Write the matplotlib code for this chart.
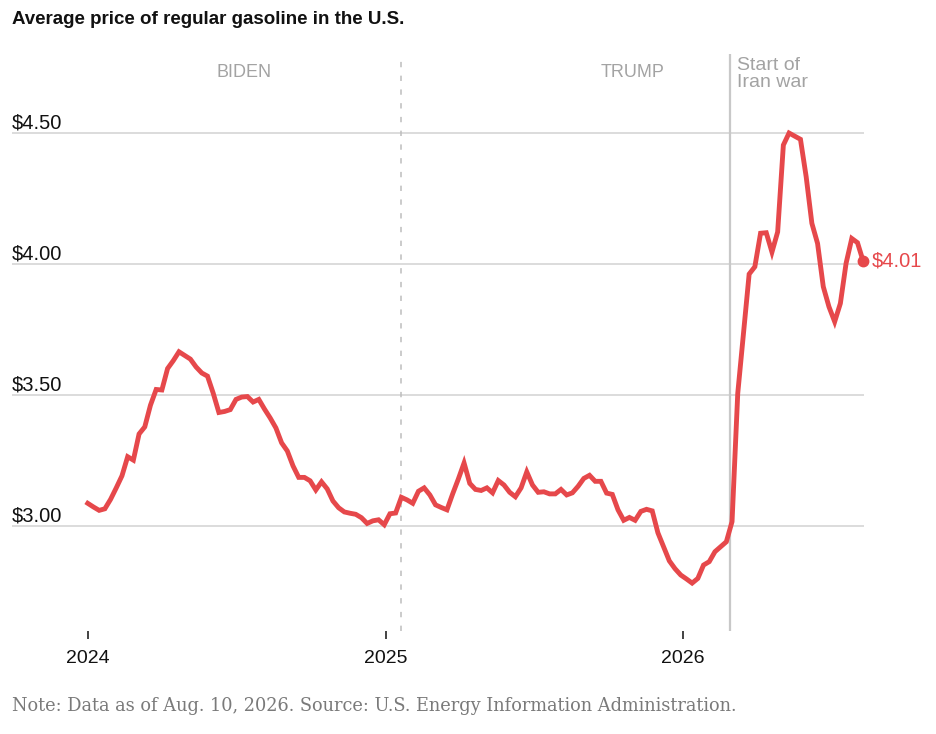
import numpy as np
import pandas as pd
import matplotlib
matplotlib.use('Agg')
import matplotlib.pyplot as plt
import matplotlib.dates as mdates
import matplotlib.transforms as mtransforms

# weekly average price of regular gasoline (Mondays, Jan 1 2024 -> Aug 10 2026)
weeks = pd.date_range('2024-01-01', '2026-08-10', freq='7D')
prices = [
    # 2024
    3.085, 3.071, 3.058, 3.064, 3.100, 3.144, 3.190, 3.263, 3.250, 3.350,
    3.377, 3.460, 3.520, 3.518, 3.600, 3.630, 3.664, 3.650, 3.636, 3.606,
    3.583, 3.571, 3.506, 3.432, 3.436, 3.443, 3.482, 3.491, 3.493, 3.472,
    3.482, 3.445, 3.411, 3.373, 3.316, 3.285, 3.228, 3.184, 3.184, 3.171,
    3.136, 3.167, 3.140, 3.094, 3.068, 3.052, 3.047, 3.043, 3.030, 3.008,
    3.018, 3.022,
    # 2025
    3.003, 3.045, 3.048, 3.108, 3.098, 3.085, 3.131, 3.144, 3.117, 3.079,
    3.069, 3.060, 3.121, 3.178, 3.239, 3.161, 3.138, 3.134, 3.144, 3.125,
    3.172, 3.155, 3.127, 3.110, 3.144, 3.205, 3.155, 3.127, 3.129, 3.121,
    3.121, 3.138, 3.117, 3.125, 3.150, 3.180, 3.192, 3.169, 3.169, 3.124,
    3.119, 3.060, 3.020, 3.031, 3.020, 3.054, 3.062, 3.056, 2.972, 2.919,
    2.865, 2.835,
    # 2026
    2.811, 2.796, 2.780, 2.798, 2.849, 2.862, 2.900, 2.919, 2.938, 3.015,
    3.505, 3.735, 3.961, 3.989, 4.117, 4.119, 4.045, 4.122, 4.454, 4.500,
    4.488, 4.476, 4.333, 4.155, 4.078, 3.913, 3.836, 3.779, 3.849, 4.002,
    4.097, 4.081, 4.010,
]
last_label = '$4.01'

price_ticks = [3.00, 3.50, 4.00, 4.50]
year_ticks = ['2024', '2025', '2026']

inauguration = pd.Timestamp('2025-01-20')
war_start = pd.Timestamp('2026-02-28')
start = pd.Timestamp('2024-01-01')
end = weeks[-1]

RED = '#e6484b'
GRID = '#d2d2d2'
GRAY = '#a3a3a3'

plt.rcParams['font.family'] = ['Liberation Sans', 'DejaVu Sans']

fig = plt.figure(figsize=(9.36, 7.34), dpi=100)
ax = fig.add_axes([12 / 936, 103 / 734, 852 / 936, 577 / 734])

ax.set_xlim(start - pd.Timedelta(days=93), end + pd.Timedelta(days=1))
ax.set_ylim(2.597, 4.802)

for s in ax.spines.values():
    s.set_visible(False)

# horizontal grid and price labels sitting on top of the lines
for p in price_ticks:
    ax.axhline(p, color=GRID, lw=1.1, zorder=1)
    ax.annotate(f'${p:.2f}', xy=(0, p), xycoords=('axes fraction', 'data'),
                xytext=(0, 3), textcoords='offset points',
                ha='left', va='baseline', fontsize=14.5, color='#111111')
ax.set_yticks([])

# year ticks
ax.set_xticks([pd.Timestamp(y + '-01-01') for y in year_ticks])
ax.set_xticklabels(year_ticks)
ax.tick_params(axis='x', length=6, width=1.2, color='#222222', pad=8,
               labelsize=14, labelcolor='#111111')

# presidency divider and war start
ax.axvline(inauguration, color='#bdbdbd', lw=1.1, dashes=(3.5, 5.5), zorder=1)
ax.axvline(war_start, color='#c8c8c8', lw=1.6, zorder=1)

trans = mtransforms.blended_transform_factory(ax.transData, ax.transAxes)
biden_x = mdates.date2num(start + (inauguration - start) / 2)
trump_x = mdates.date2num(inauguration + (end - inauguration) / 2)
ax.text(biden_x, 0.968, 'BIDEN', transform=trans,
        ha='center', va='center', fontsize=13, color=GRAY)
ax.text(trump_x, 0.968, 'TRUMP', transform=trans,
        ha='center', va='center', fontsize=13, color=GRAY)
ax.annotate('Start of\nIran war', xy=(mdates.date2num(war_start), 1.0), xycoords=trans,
            xytext=(5, -2.5), textcoords='offset points', ha='left', va='top',
            fontsize=14, color=GRAY, linespacing=1.0)

# the price line
ax.plot(weeks, prices, color=RED, lw=3.5, solid_joinstyle='miter', zorder=3,
        clip_on=False)
ax.plot(weeks[-1:], prices[-1:], 'o', color=RED, ms=7.5, zorder=4, clip_on=False)
ax.annotate(last_label, xy=(mdates.date2num(weeks[-1]), prices[-1]), xytext=(6, 0),
            textcoords='offset points', ha='left', va='center',
            fontsize=14.5, color=RED, annotation_clip=False)

fig.text(12 / 936, 1 - 19 / 734, 'Average price of regular gasoline in the U.S.',
         ha='left', va='center', fontsize=13.5, fontweight='bold', color='#111111')
fig.text(12 / 936, 1 - 706 / 734,
         'Note: Data as of Aug. 10, 2026. Source: U.S. Energy Information Administration.',
         ha='left', va='center', fontsize=12.75, color='#7a7a7a',
         family=['DejaVu Serif', 'Liberation Serif'])

fig.savefig('out.png', dpi=100, facecolor='white')
